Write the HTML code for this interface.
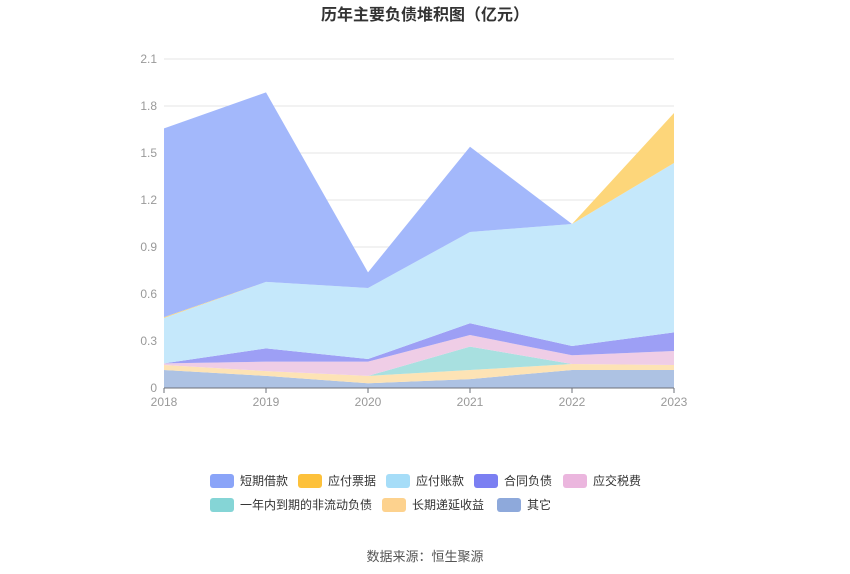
<!DOCTYPE html>
<html><head><meta charset="utf-8"><style>
body{margin:0;background:#fff;font-family:"Liberation Sans","Noto Sans CJK SC",sans-serif;}
#wrap{position:relative;width:850px;height:574px;overflow:hidden;}
</style></head><body>
<div id="wrap">
<svg id="chart" width="850" height="574" xmlns="http://www.w3.org/2000/svg">
<text x="425" y="20" text-anchor="middle" font-size="16" font-weight="bold" fill="#333">历年主要负债堆积图（亿元）</text>
<g id="grid"></g><g id="areas"></g><g id="axes"></g><g id="legend"></g>
<text x="425" y="561" text-anchor="middle" font-size="13" fill="#555">数据来源：恒生聚源</text>
</svg>
</div>
<script>
const years=["2018","2019","2020","2021","2022","2023"];
const yTicks=[0,0.3,0.6,0.9,1.2,1.5,1.8,2.1];
const seriesNames=["其它","长期递延收益","一年内到期的非流动负债","应交税费","合同负债","应付账款","应付票据","短期借款"];
const other=[0.115,0.077,0.03,0.057,0.115,0.115];
const deferred=[0.032,0.031,0.047,0.058,0.038,0.032];
const currentNonCurrent=[0,0,0,0.149,0,0];
const taxes=[0.01,0.06,0.091,0.074,0.056,0.089];
const contract=[0,0.085,0.017,0.075,0.059,0.119];
const payables=[0.29,0.424,0.453,0.583,0.779,1.081];
const notes=[0.005,0,0,0,0,0.319];
const shortLoans=[1.205,1.21,0.10,0.544,0,0];
const fills=["#adc2e3","#fde3b5","#a8e0e0","#efcde6","#9d9ff5","#c5e8fb","#fdd67a","#a3b8fb"];
const icons=["#8ea9db","#fdd28e","#85d5d6","#ebb6de","#7b7ff2","#a6ddf8","#fdc13b","#8aa4f8"];
const ns="http://www.w3.org/2000/svg";
const x0=164,x1=674,yb=388,yt=59,ymax=2.1;
const X=i=>x0+(x1-x0)*i/(years.length-1);
const Y=v=>yb-(yb-yt)*v/ymax;
function mk(t,a,p){const e=document.createElementNS(ns,t);for(const k in a)e.setAttribute(k,a[k]);p.appendChild(e);return e;}
const grid=document.getElementById('grid'),axes=document.getElementById('axes'),areas=document.getElementById('areas'),legend=document.getElementById('legend');
yTicks.forEach(v=>{
 if(v>0){const l=mk('line',{x1:x0,x2:x1,y1:Y(v),y2:Y(v),stroke:'#e6e6e6'},grid);
 
 }
 const t=mk('text',{x:157,y:Y(v)+4,'text-anchor':'end','font-size':12,fill:'#999'},axes);t.textContent=v===0?'0':v.toFixed(1);
 
 
});
const data=[other,deferred,currentNonCurrent,taxes,contract,payables,notes,shortLoans];
let base=years.map(()=>0);
data.forEach((s,k)=>{
 const top=base.map((b,i)=>b+s[i]);
 let d='M'+years.map((_,i)=>X(i)+','+Y(top[i])).join(' L');
 for(let i=years.length-1;i>=0;i--)d+=' L'+X(i)+','+Y(base[i]);
 const p=mk('path',{d:d+'Z',fill:fills[k]},areas);
 
 
 base=top;
});
mk('line',{x1:x0,x2:x1,y1:yb,y2:yb,stroke:'#6e7079'},axes);
years.forEach((y,i)=>{
 mk('line',{x1:X(i),x2:X(i),y1:yb,y2:yb+5,stroke:'#6e7079'},axes);
 const t=mk('text',{x:X(i),y:406,'text-anchor':'middle','font-size':12,fill:'#999'},axes);t.textContent=y;
 
 
});
const order=[7,6,5,4,3,2,1,0];
const pos=[[210,481],[298,481],[386,481],[474,481],[563,481],[210,505],[382,505],[497,505]];
order.forEach((k,j)=>{
 const g=mk('g',{},legend);
 
 
 mk('rect',{x:pos[j][0],y:pos[j][1]-7,width:24,height:14,rx:3,fill:icons[k]},g);
 const t=mk('text',{x:pos[j][0]+30,y:pos[j][1]+4,'font-size':12,fill:'#333'},g);t.textContent=seriesNames[k];
});
</script>
</body></html>
